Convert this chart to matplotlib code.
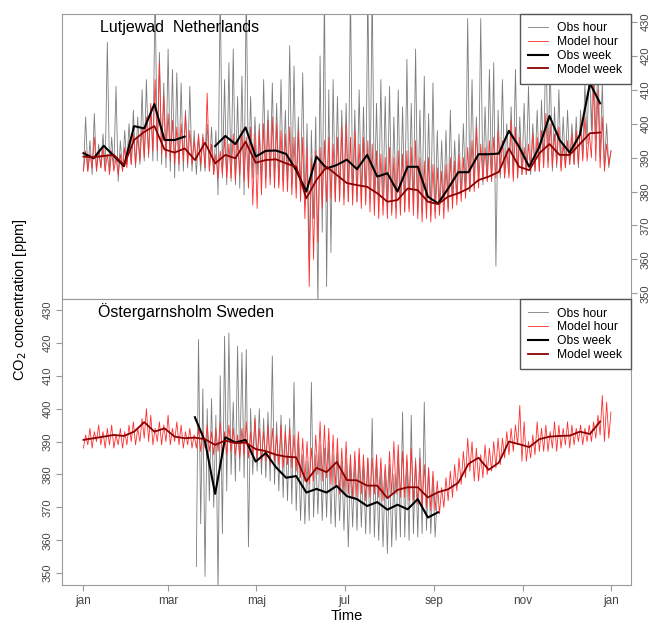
import numpy as np
import matplotlib.pyplot as plt

plt.rcParams['font.family'] = ['Liberation Sans', 'DejaVu Sans']

# month ticks (day of year)
month_days = [0, 59, 120, 181, 243, 304, 365]
month_labels = ['jan', 'mar', 'maj', 'jul', 'sep', 'nov', 'jan']

# ---- weekly means, week k centred on day 7*k + 0.5 ----
top_obs_week = [391.3, 389.8, 393.5, 390.5, 387.5, 399.3, 398.6, 405.8, 395.2, 395.2,
                396.2, np.nan, np.nan, 393.4, 396.4, 394.0, 398.9, 390.3, 392.0, 392.1,
                391.1, 386.3, 380.0, 390.3, 386.8, 387.8, 389.4, 386.6, 390.8, 384.4,
                385.4, 380.0, 387.3, 387.3, 378.5, 376.5, 380.9, 385.7, 385.7, 391.0,
                391.0, 391.2, 397.9, 393.2, 387.3, 393.2, 402.3, 395.2, 391.5, 396.7,
                411.9, 406.0]
top_mod_week = [390.3, 390.1, 390.5, 390.8, 387.8, 395.2, 397.6, 399.3, 392.4, 391.5,
                392.7, 389.3, 394.4, 388.3, 390.8, 389.8, 394.7, 388.5, 389.3, 389.5,
                388.3, 387.3, 378.0, 383.4, 387.3, 384.9, 382.5, 381.9, 381.4, 379.5,
                377.0, 377.5, 380.9, 380.4, 377.0, 376.3, 378.5, 379.5, 380.9, 383.4,
                384.4, 385.8, 392.7, 387.3, 386.3, 391.3, 394.0, 390.8, 390.8, 394.0,
                397.2, 397.4]
bot_mod_week = [390.5, 391.0, 391.5, 392.0, 391.7, 393.0, 395.9, 393.0, 394.0, 391.5,
                391.0, 391.2, 390.7, 389.0, 390.3, 389.5, 389.7, 387.7, 387.1, 386.0,
                385.4, 385.2, 377.9, 382.0, 380.7, 383.8, 378.3, 378.2, 376.6, 376.6,
                372.8, 375.3, 376.1, 376.1, 373.0, 374.6, 375.5, 377.5, 383.2, 385.1,
                381.4, 383.6, 390.0, 389.2, 388.3, 390.7, 391.5, 391.7, 391.8, 393.0,
                392.3, 396.1]
bot_obs_week_first = 11  # first week with observations
bot_obs_week = [397.4, 390.0, 374.1, 391.3, 389.7, 390.5, 383.9, 386.5, 382.2, 379.0,
                379.5, 374.5, 375.6, 374.5, 376.5, 373.4, 372.5, 370.4, 371.6, 369.3,
                370.8, 369.4, 372.5, 366.9, 368.5]

# ---- hourly data, summarised as low / high per 3-day bin ----
bin_days = 3
top_obs_lo = [386, 386, 385, 386, 387, 386, 386, 387, 383, 386,
              388, 388, 387, 388, 389, 390, 389, 389, 388, 387,
              386, 384, 386, 386, 387, 386, 385, 386, 386, 386,
              385, 379, 384, 382, 383, 382, 381, 379, 383, 384,
              385, 383, 384, 384, 383, 382, 383, 382, 382, 381,
              380, 376, 360, 372, 346, 368, 352, 362, 377, 378,
              378, 377, 378, 377, 378, 377, 378, 377, 376, 376,
              375, 374, 375, 374, 374, 375, 375, 374, 374, 373,
              373, 374, 375, 376, 375, 377, 378, 379, 380, 380,
              381, 382, 382, 383, 383, 358, 384, 384, 385, 384,
              384, 385, 385, 385, 386, 386, 388, 389, 386, 387,
              387, 387, 388, 388, 387, 390, 394, 398, 395, 390,
              387, 387]
top_obs_hi = [402, 395, 403, 394, 397, 424, 396, 411, 395, 398,
              400, 404, 402, 410, 413, 405, 440, 421, 412, 422,
              416, 415, 412, 404, 411, 398, 396, 397, 400, 399,
              398, 440, 413, 418, 422, 408, 414, 440, 408, 402,
              400, 413, 404, 412, 406, 413, 404, 423, 417, 402,
              415, 400, 398, 402, 420, 440, 410, 413, 408, 404,
              406, 440, 404, 410, 405, 440, 440, 406, 413, 408,
              411, 402, 410, 405, 419, 406, 422, 404, 414, 403,
              412, 398, 395, 398, 404, 395, 397, 400, 431, 413,
              402, 431, 405, 416, 418, 404, 413, 400, 405, 416,
              402, 406, 411, 400, 404, 407, 426, 418, 405, 410,
              402, 404, 400, 402, 404, 412, 420, 425, 420, 412,
              400, 392]
top_mod_lo = [386, 386, 387, 386, 387, 386, 385, 386, 385, 386,
              387, 388, 388, 389, 390, 391, 392, 392, 391, 390,
              389, 388, 388, 389, 388, 388, 389, 388, 387, 386,
              385, 384, 385, 384, 384, 383, 385, 383, 381, 376,
              375, 379, 381, 382, 381, 381, 380, 380, 379, 378,
              377, 372, 352, 360, 365, 375, 377, 378, 377, 377,
              376, 377, 376, 377, 375, 376, 374, 373, 372, 373,
              372, 373, 372, 373, 374, 374, 373, 372, 371, 372,
              371, 372, 373, 372, 374, 375, 376, 377, 378, 380,
              380, 381, 383, 383, 383, 384, 385, 384, 384, 383,
              384, 385, 385, 386, 386, 386, 387, 387, 387, 388,
              386, 387, 388, 388, 388, 389, 389, 390, 389, 387,
              386, 388]
top_mod_hi = [392, 391, 396, 392, 393, 391, 392, 390, 391, 393,
              395, 397, 396, 399, 402, 406, 413, 418, 408, 403,
              401, 399, 400, 403, 398, 395, 397, 396, 409, 394,
              391, 392, 396, 394, 397, 395, 398, 396, 399, 397,
              398, 400, 401, 402, 400, 398, 397, 399, 396, 398,
              396, 393, 390, 392, 393, 395, 396, 394, 396, 399,
              400, 396, 398, 394, 396, 395, 394, 392, 391, 390,
              393, 390, 392, 391, 392, 393, 395, 390, 389, 390,
              388, 387, 386, 388, 390, 389, 391, 390, 393, 395,
              399, 394, 393, 395, 396, 398, 395, 392, 401, 399,
              396, 393, 394, 397, 396, 398, 403, 400, 397, 399,
              394, 395, 397, 398, 400, 402, 397, 412, 410, 402,
              394, 392]
bot_mod_lo = [388, 389, 388, 390, 389, 388, 389, 388, 389, 388,
              389, 390, 389, 390, 391, 390, 389, 390, 389, 390,
              389, 390, 389, 388, 389, 388, 388, 387, 388, 387,
              386, 387, 386, 386, 387, 386, 385, 386, 385, 386,
              385, 384, 384, 383, 384, 383, 382, 383, 382, 381,
              379, 378, 377, 378, 380, 378, 379, 377, 376, 374,
              374, 374, 373, 373, 374, 372, 373, 374, 373, 372,
              373, 374, 374, 373, 373, 372, 372, 371, 370, 370,
              369, 369, 368, 370, 372, 373, 375, 377, 379, 381,
              378, 378, 379, 380, 381, 382, 383, 385, 386, 387,
              389, 384, 384, 385, 386, 387, 387, 387, 388, 387,
              388, 389, 388, 389, 390, 389, 390, 390, 391, 392,
              390, 391]
bot_mod_hi = [392, 394, 393, 395, 393, 394, 395, 392, 394, 393,
              395, 396, 394, 397, 400, 398, 394, 396, 395, 398,
              394, 396, 395, 393, 394, 392, 394, 393, 395, 393,
              394, 396, 393, 395, 394, 392, 394, 396, 393, 397,
              394, 393, 395, 394, 392, 395, 393, 394, 392, 393,
              391, 390, 388, 392, 396, 395, 394, 392, 391, 388,
              390, 386, 387, 388, 386, 385, 385, 386, 385, 383,
              387, 390, 389, 387, 386, 388, 384, 385, 383, 382,
              381, 378, 376, 379, 381, 383, 385, 387, 391, 390,
              388, 386, 389, 388, 390, 391, 391, 393, 394, 395,
              401, 396, 390, 392, 396, 394, 395, 393, 396, 395,
              394, 396, 395, 394, 395, 394, 395, 396, 398, 404,
              402, 399]
bot_obs_first_bin = 26
bot_obs_lo = [352, 365, 349, 372, 370, 345, 362, 375, 380, 378,
              381, 379, 358, 380, 381, 380, 379, 378, 377, 375,
              373, 372, 371, 369, 366, 365, 366, 367, 368, 366,
              367, 365, 364, 366, 363, 358, 364, 363, 364, 362,
              362, 361, 360, 358, 356, 358, 360, 361, 361, 360,
              362, 361, 362, 363, 362, 361]
bot_obs_hi = [421, 406, 400, 403, 398, 410, 422, 423, 402, 419,
              417, 418, 400, 398, 400, 397, 399, 416, 396, 398,
              395, 397, 408, 390, 386, 384, 408, 386, 389, 388,
              390, 386, 387, 384, 385, 383, 384, 386, 383, 385,
              397, 384, 382, 381, 383, 380, 386, 399, 384, 398,
              385, 388, 402, 382, 379, 374]


def hourly(lo, hi, first_bin=0):
    """Zig-zag between low and high of each bin."""
    start = (first_bin + np.arange(len(lo))) * bin_days
    t = np.column_stack([start + 0.5, start + 2.0]).ravel()
    y = np.column_stack([lo, hi]).ravel()
    return t, y


def weekly(vals, first_week=0):
    return (first_week + np.arange(len(vals))) * 7 + 0.5, vals


c_obs_h = '#7c7c7c'
c_mod_h = '#ff2e2e'
c_obs_w = 'black'
c_mod_w = '#8b0000'
spine_c = '#9a9a9a'
tick_c = '#454545'

fig = plt.figure(figsize=(6.53, 6.27), dpi=100)
ax1 = fig.add_axes([0.095, 0.523, 0.871, 0.455])
ax2 = fig.add_axes([0.095, 0.067, 0.871, 0.456])


def draw(ax, obs_h, mod_h, obs_w, mod_w):
    ax.plot(*obs_h, color=c_obs_h, lw=0.6, label='Obs hour')
    ax.plot(*mod_h, color=c_mod_h, lw=0.6, label='Model hour')
    ax.plot(*obs_w, color=c_obs_w, lw=1.5, label='Obs week')
    ax.plot(*mod_w, color=c_mod_w, lw=1.3, label='Model week')
    ax.set_xlim(-14.3, 378.7)
    for s in ax.spines.values():
        s.set_color(spine_c)
    ax.tick_params(colors=spine_c, labelcolor=tick_c, length=4, pad=3)
    ax.set_yticks(np.arange(350, 431, 10))
    leg = ax.legend(loc='upper right', borderaxespad=0, fancybox=False,
                    framealpha=1, edgecolor='#555555', fontsize=8.7,
                    labelspacing=0.15, handlelength=1.6, borderpad=0.7,
                    handletextpad=0.8)
    leg.get_frame().set_linewidth(1.0)


draw(ax1, hourly(top_obs_lo, top_obs_hi), hourly(top_mod_lo, top_mod_hi),
     weekly(top_obs_week), weekly(top_mod_week))
draw(ax2, hourly(bot_obs_lo, bot_obs_hi, bot_obs_first_bin),
     hourly(bot_mod_lo, bot_mod_hi),
     weekly(bot_obs_week, bot_obs_week_first), weekly(bot_mod_week))

ax1.set_ylim(348.3, 432.4)
ax2.set_ylim(346.4, 433.3)
ax1.yaxis.tick_right()
ax1.tick_params(axis='x', bottom=False, labelbottom=False)
for ax in (ax1, ax2):
    for lab in ax.get_yticklabels():
        lab.set_rotation(90)
        lab.set_va('center')
        lab.set_fontsize(8)

ax2.set_xticks(month_days)
ax2.set_xticklabels(month_labels, fontsize=8.5)
ax2.set_xlabel('Time', fontsize=10.5, labelpad=2)

ax1.text(0.067, 0.953, 'Lutjewad  Netherlands', transform=ax1.transAxes,
         fontsize=11.5, va='center', ha='left')
ax2.text(0.064, 0.955, 'Östergarnsholm Sweden', transform=ax2.transAxes,
         fontsize=11.5, va='center', ha='left')

fig.text(0.03, 0.522, 'CO$_2$ concentration [ppm]', rotation=90,
         fontsize=10.5, va='center', ha='center')

fig.savefig('out.png', dpi=100)
